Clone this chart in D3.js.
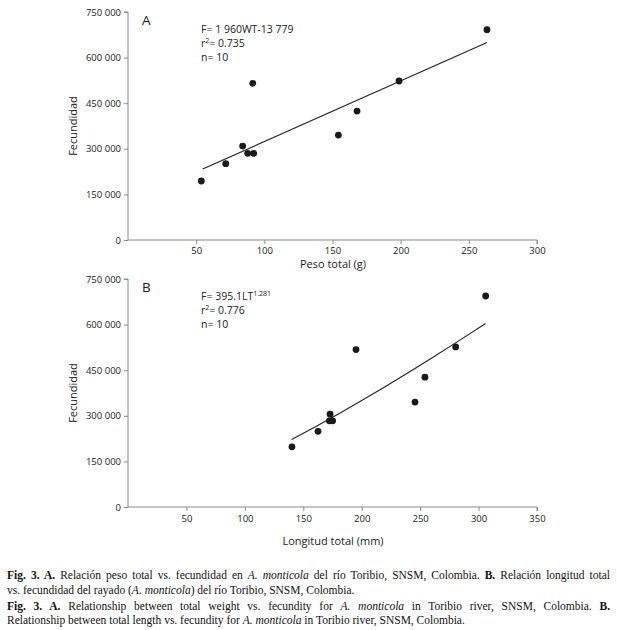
<!DOCTYPE html>
<html><head><meta charset="utf-8">
<script src="https://cdn.jsdelivr.net/npm/d3@7"></script>
<style>body{margin:0;background:#fff}svg{display:block}</style>
</head><body>
<svg id="c" width="617" height="630"></svg>
<script>
// ---- data ----
const pesoA = [53.8, 71.7, 84.1, 87.8, 92.2, 91.5, 154.3, 168.0, 198.8, 263.3];
const fecA  = [194000, 251000, 309000, 285000, 285000, 515500, 345000, 424000, 523000, 691800];
const lineAx = [54.8, 263.3];
const lineAy = [233500, 650000];
const longB = [140.3, 162.6, 172.9, 172.3, 175.1, 195.1, 245.6, 254.1, 280.4, 306.1];
const fecB  = [198000, 249000, 305500, 283500, 283500, 517700, 345000, 427000, 526600, 694000];
const curveBx = [140, 160, 180, 200, 220, 240, 260, 280, 306];
const curveBy = [221800, 263200, 306000, 350200, 395700, 442400, 490200, 539000, 603800];
const yTicks = [0, 150000, 300000, 450000, 600000, 750000];
const xTicksA = [50, 100, 150, 200, 250, 300];
const xTicksB = [50, 100, 150, 200, 250, 300, 350];

const svg = d3.select("#c");
svg.append("rect").attr("width",617).attr("height",630).attr("fill","#fff");
const sans = "'Open Sans', 'Noto Sans', sans-serif";
const fmt = d => d === 0 ? "0" : d3.format(",")(d).replace(/,/g, " ");

function panel(o) {
  const g = svg.append("g");
  const x = d3.scaleLinear().domain([0, o.xmax]).range([128, 537]);
  const y = d3.scaleLinear().domain([0, 750000]).range([o.y0, o.y1]);
  const ya = g.append("g").attr("transform","translate(128,0)")
    .call(d3.axisLeft(y).tickValues(yTicks).tickFormat(fmt).tickSize(4).tickPadding(3));
  const xa = g.append("g").attr("transform",`translate(0,${o.y0})`)
    .call(d3.axisBottom(x).tickValues(o.xt).tickSize(4).tickPadding(o.xpad));
  [ya, xa].forEach(a => {
    a.select(".domain").attr("stroke","#8a8a8a").attr("stroke-width",1);
    a.selectAll(".tick line").attr("stroke","#8a8a8a");
    a.selectAll("text").attr("font-family", sans).attr("font-size", 9.5).attr("fill","#222");
  });
  ya.select(".domain").attr("d", `M-4,${o.y1}H0V${o.y0}`);
  xa.select(".domain").attr("d", `M128,0H537V4`);
  // fit
  g.append("path").datum(o.fit)
    .attr("d", d3.line().x(d=>x(d[0])).y(d=>y(d[1])).curve(d3.curveMonotoneX))
    .attr("fill","none").attr("stroke","#222").attr("stroke-width",1.1);
  g.selectAll("circle.p").data(o.pts).join("circle")
    .attr("cx", d=>x(d[0])).attr("cy", d=>y(d[1])).attr("r", 3.4).attr("fill","#1a1a1a");
  // labels
  g.append("text").attr("transform",`translate(77,${(o.y0+o.y1)/2}) rotate(-90)`)
    .attr("text-anchor","middle").attr("font-family",sans).attr("font-size",11).attr("fill","#222")
    .text("Fecundidad");
  g.append("text").attr("x",333).attr("y",o.xtitleY).attr("text-anchor","middle")
    .attr("font-family",sans).attr("font-size",11).attr("fill","#222").text(o.xtitle);
  g.append("text").attr("x",142).attr("y",o.y1+13).attr("font-family",sans)
    .attr("font-size",13.5).attr("fill","#222").text(o.letter);
  const ann = g.append("g").attr("font-family",sans).attr("font-size",10.5).attr("fill","#222");
  const t1 = ann.append("text").attr("x",201).attr("y",o.y1+21);
  t1.append("tspan").text(o.eq[0]);
  if (o.eq[1]) t1.append("tspan").attr("dy",-4).attr("font-size",7).text(o.eq[1]);
  const t2 = ann.append("text").attr("x",201).attr("y",o.y1+35);
  t2.append("tspan").text("r");
  t2.append("tspan").attr("dy",-4).attr("font-size",7).text("2");
  t2.append("tspan").attr("dy",4).text("= " + o.r2);
  ann.append("text").attr("x",201).attr("y",o.y1+49).text("n= 10");
}

panel({y0:240, y1:12, xmax:300, xt:xTicksA, xpad:3, xtitle:"Peso total (g)", xtitleY:268, letter:"A",
  pts: pesoA.map((v,i)=>[v,fecA[i]]), fit: lineAx.map((v,i)=>[v,lineAy[i]]),
  eq:["F= 1 960WT-13 779"], r2:"0.735"});
panel({y0:507, y1:279, xmax:350, xt:xTicksB, xpad:4, xtitle:"Longitud total (mm)", xtitleY:545, letter:"B",
  pts: longB.map((v,i)=>[v,fecB[i]]), fit: curveBx.map((v,i)=>[v,curveBy[i]]),
  eq:["F= 395.1LT","1.281"], r2:"0.776"});

// caption
const serif = "'Liberation Serif', 'Times New Roman', serif";
const cap = [
  {y:579, just:true, parts:[["Fig. 3. A.","b"],[" Relación peso total vs. fecundidad en ",""],["A. monticola","i"],[" del río Toribio, SNSM, Colombia. ",""],["B.","b"],[" Relación longitud total",""]]},
  {y:594, just:false, parts:[["vs. fecundidad del rayado (",""],["A. monticola","i"],[") del río Toribio, SNSM, Colombia.",""]]},
  {y:610, just:true, parts:[["Fig. 3. A.","b"],[" Relationship between total weight vs. fecundity for ",""],["A. monticola","i"],[" in Toribio river, SNSM, Colombia. ",""],["B.","b"]]},
  {y:624, just:false, parts:[["Relationship between total length vs. fecundity for ",""],["A. monticola","i"],[" in Toribio river, SNSM, Colombia.",""]]}
];
cap.forEach(l => {
  const t = svg.append("text").attr("x",7).attr("y",l.y).attr("font-family",serif)
    .attr("font-size",11.5).attr("fill","#111").attr("xml:space","preserve");
  l.parts.forEach(p => {
    const s = t.append("tspan").text(p[0]);
    if (p[1]==="b") s.attr("font-weight","bold");
    if (p[1]==="i") s.attr("font-style","italic");
  });
  if (l.just) {
    const w = t.node().getComputedTextLength();
    const n = l.parts.map(p=>p[0]).join("").split(" ").length - 1;
    t.attr("word-spacing", (603 - w) / n);
  }
});
</script>
</body></html>
